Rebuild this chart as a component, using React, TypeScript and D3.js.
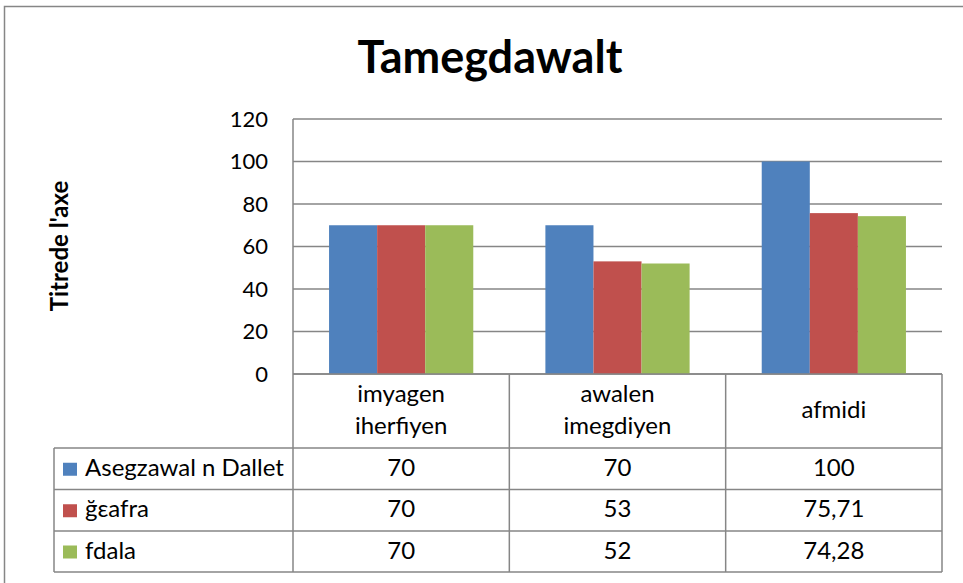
import { useEffect, useRef } from 'react'
import * as d3 from 'd3'

const categories = [['imyagen', 'iherfiyen'], ['awalen', 'imegdiyen'], ['afmidi']]
const seriesNames = ['Asegzawal n Dallet', 'ğεafra', 'fdala']
const seriesColors = ['#4F81BD', '#C0504D', '#9BBB59']
const dallet = [70, 70, 100]
const gEafra = [70, 53, 75.71]
const fdala = [70, 52, 74.28]
const yTicks = [0, 20, 40, 60, 80, 100, 120]

const W = 963
const H = 583

export default function App() {
  const svgRef = useRef<SVGSVGElement>(null)

  useEffect(() => {
    if (!svgRef.current) return
    const svg = d3.select(svgRef.current)
      .style('font-variant-ligatures', 'none')
    svg.selectAll('*').remove()

    const font = 'Lato, Carlito, Calibri, sans-serif'
    const grey = '#868686'
    const series = [dallet, gEafra, fdala]

    // plot frame
    const left = 293
    const right = 942
    const top = 119
    const bottom = 374
    const tableLeft = 54
    const rowLines = [448, 489.5, 531, 572]

    // outer border
    svg.append('rect')
      .attr('x', 4.5).attr('y', 6.5)
      .attr('width', W + 20).attr('height', H + 20)
      .attr('fill', 'white').attr('stroke', grey).attr('stroke-width', 1.5)

    // title
    svg.append('text')
      .attr('x', 490).attr('y', 73)
      .attr('text-anchor', 'middle')
      .style('font', `bold 45px ${font}`)
      .text('Tamegdawalt')

    const x = d3.scaleBand<number>()
      .domain(d3.range(categories.length))
      .range([left, right])
      .paddingInner(0).paddingOuter(0)
    const inner = d3.scaleBand<number>()
      .domain(d3.range(series.length))
      .range([0, x.bandwidth()])
      .paddingOuter(0.75).paddingInner(0)
    const y = d3.scaleLinear().domain([0, 120]).range([bottom, top])

    // gridlines
    svg.append('g')
      .selectAll('line')
      .data(yTicks)
      .join('line')
      .attr('x1', left).attr('x2', right)
      .attr('y1', d => y(d)).attr('y2', d => y(d))
      .attr('stroke', grey).attr('stroke-width', 1.5)

    // tick labels
    svg.append('g')
      .selectAll('text')
      .data(yTicks)
      .join('text')
      .attr('x', 268).attr('y', d => y(d))
      .attr('dy', '0.36em')
      .attr('text-anchor', 'end')
      .style('font', `22px ${font}`)
      .text(d => d)

    // axis title
    svg.append('text')
      .attr('transform', `translate(68,246) rotate(-90)`)
      .attr('text-anchor', 'middle')
      .style('font', `bold 24px ${font}`)
      .text("Titrede l'axe")

    // bars
    series.forEach((vals, si) => {
      svg.append('g')
        .selectAll('rect')
        .data(vals)
        .join('rect')
        .attr('x', (_, i) => (x(i) ?? 0) + (inner(si) ?? 0))
        .attr('width', inner.bandwidth())
        .attr('y', d => y(d))
        .attr('height', d => y(0) - y(d))
        .attr('fill', seriesColors[si])
    })

    // data table lines
    const tbl = svg.append('g').attr('stroke', grey).attr('stroke-width', 1.5)
    tbl.append('line').attr('x1', left).attr('x2', right).attr('y1', bottom).attr('y2', bottom)
    x.domain().concat([categories.length]).forEach(i => {
      const xx = i < categories.length ? (x(i) ?? 0) : right
      tbl.append('line').attr('x1', xx).attr('x2', xx).attr('y1', i === 0 ? top : bottom).attr('y2', rowLines[rowLines.length - 1])
    })
    rowLines.forEach(ry => {
      tbl.append('line').attr('x1', tableLeft).attr('x2', right).attr('y1', ry).attr('y2', ry)
    })
    tbl.append('line').attr('x1', tableLeft).attr('x2', tableLeft).attr('y1', rowLines[0]).attr('y2', rowLines[rowLines.length - 1])

    const textSize = 24
    const baseShift = 7

    // category headers
    categories.forEach((lines, i) => {
      const cx = (x(i) ?? 0) + x.bandwidth() / 2
      const cy = (bottom + rowLines[0]) / 2
      const lh = 32
      lines.forEach((t, li) => {
        svg.append('text')
          .attr('x', cx)
          .attr('y', cy + (li - (lines.length - 1) / 2) * lh + baseShift)
          .attr('text-anchor', 'middle')
          .style('font', `${textSize}px ${font}`)
          .text(t)
      })
    })

    // legend rows with values
    const fmt = (v: number) => String(v).replace('.', ',')
    series.forEach((vals, si) => {
      const cy = (rowLines[si] + rowLines[si + 1]) / 2
      svg.append('rect')
        .attr('x', 63).attr('y', cy - 6)
        .attr('width', 14).attr('height', 13)
        .attr('fill', seriesColors[si])
      svg.append('text')
        .attr('x', 85).attr('y', cy + baseShift)
        .style('font', `${textSize}px ${font}`)
        .text(seriesNames[si])
      vals.forEach((v, i) => {
        svg.append('text')
          .attr('x', (x(i) ?? 0) + x.bandwidth() / 2).attr('y', cy + baseShift)
          .attr('text-anchor', 'middle')
          .style('font', `${textSize}px ${font}`)
          .text(fmt(v))
      })
    })
  }, [])

  return (
    <svg
      ref={svgRef}
      width={W}
      height={H}
      style={{ position: 'absolute', left: 0, top: 0, background: 'white' }}
    />
  )
}
